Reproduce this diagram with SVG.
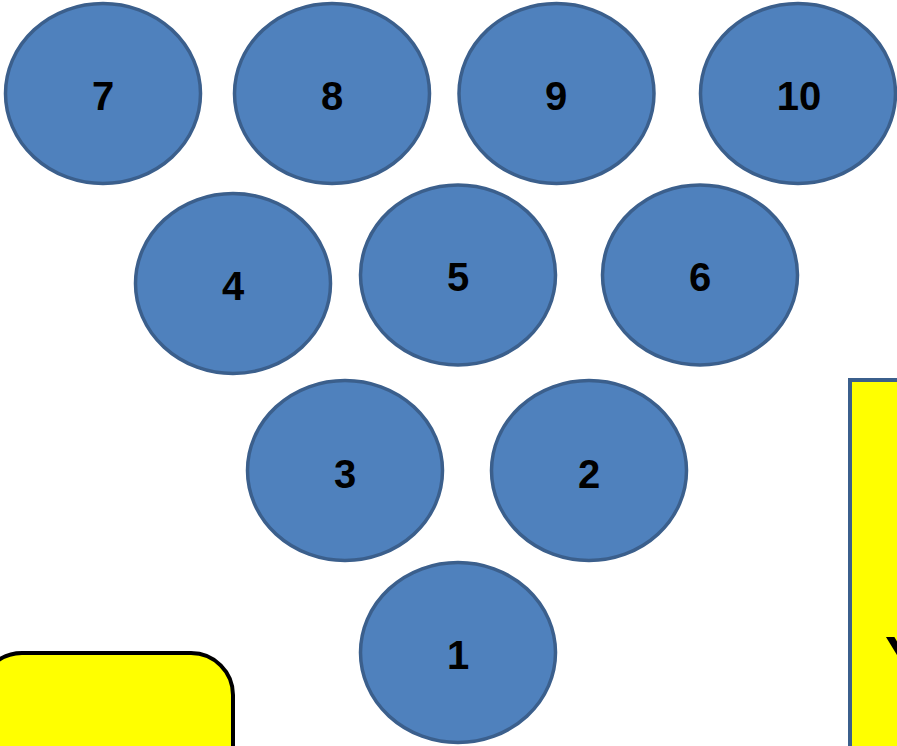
<svg xmlns="http://www.w3.org/2000/svg" width="897" height="746" viewBox="0 0 897 746">
<style>
.pin{fill:#4F81BD;stroke:#3B5F8C;stroke-width:3.5}
.lbl{font-family:"Liberation Sans",Arial,sans-serif;font-weight:bold;font-size:40px;fill:#000;text-anchor:middle}
</style>
<rect width="897" height="746" fill="#fff"/>
<g id="box-left"><rect x="-20" y="653" width="253" height="140" rx="42" ry="42" fill="#FFFF00" stroke="#000" stroke-width="4"/></g>
<g id="box-right"><rect x="850" y="380" width="80" height="400" fill="#FFFF00" stroke="#3B5F8C" stroke-width="4"/>
<text x="885" y="675" font-family="Liberation Sans,Arial,sans-serif" font-weight="bold" font-size="56" fill="#000">Y</text></g>
<g id="pin7"><ellipse class="pin" cx="103" cy="93.5" rx="97.5" ry="90"/><text class="lbl" x="103" y="110">7</text></g>
<g id="pin8"><ellipse class="pin" cx="332" cy="93.5" rx="97.5" ry="90"/><text class="lbl" x="332" y="110">8</text></g>
<g id="pin9"><ellipse class="pin" cx="556.5" cy="93.5" rx="97.5" ry="90"/><text class="lbl" x="556" y="110">9</text></g>
<g id="pin10"><ellipse class="pin" cx="798" cy="93.5" rx="97.5" ry="90"/><text class="lbl" x="799" y="110">10</text></g>
<g id="pin4"><ellipse class="pin" cx="233" cy="283.5" rx="97.5" ry="90"/><text class="lbl" x="233" y="300">4</text></g>
<g id="pin5"><ellipse class="pin" cx="458" cy="275" rx="97.5" ry="90"/><text class="lbl" x="458" y="291">5</text></g>
<g id="pin6"><ellipse class="pin" cx="700" cy="275" rx="97.5" ry="90"/><text class="lbl" x="700" y="291">6</text></g>
<g id="pin3"><ellipse class="pin" cx="345" cy="470.5" rx="97.5" ry="90"/><text class="lbl" x="345" y="488">3</text></g>
<g id="pin2"><ellipse class="pin" cx="589" cy="470.5" rx="97.5" ry="90"/><text class="lbl" x="589" y="488">2</text></g>
<g id="pin1"><ellipse class="pin" cx="458" cy="652.5" rx="97.5" ry="90"/><text class="lbl" x="458" y="669">1</text></g>
<g id="connectors"></g>
</svg>
